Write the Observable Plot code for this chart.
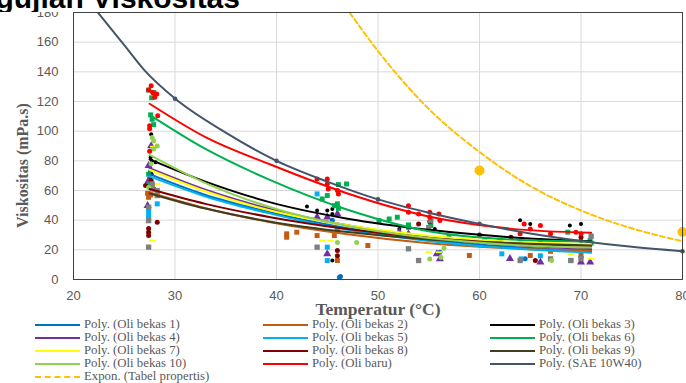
<!DOCTYPE html>
<html><head><meta charset="utf-8">
<script src="https://cdn.jsdelivr.net/npm/d3@7"></script>
<script src="https://cdn.jsdelivr.net/npm/@observablehq/plot@0.6"></script>
<style>
body{margin:0;background:#fff;width:686px;height:383px;overflow:hidden;}
#wrap{position:relative;width:686px;height:383px;}
#wrap svg{position:absolute;left:0;top:0;}
#title{position:absolute;left:0;top:-30px;width:686px;height:42px;background:#fff;overflow:hidden;}
#title span{position:absolute;right:446px;top:12.6px;font:bold 30px/30px "Liberation Sans",Arial,sans-serif;white-space:nowrap;color:#000;}
#legend{position:absolute;left:0;top:0;width:686px;height:383px;font:12.8px/13px "Liberation Serif","Times New Roman",serif;color:#595959;pointer-events:none;}
.item{position:absolute;display:flex;align-items:center;height:13px;white-space:nowrap;}
.sw{width:45px;height:0;border-top-width:2px;border-top-style:solid;margin-right:4px;}
</style></head>
<body>
<div id="wrap"></div>
<script>
// ---- axis ticks ----
const temperatureTicks = [20, 30, 40, 50, 60, 70, 80];
const viscosityTicks = [0, 20, 40, 60, 80, 100, 120, 140, 160, 180];

// ---- series ----
const seriesNames = ["Oli bekas 1","Oli bekas 2","Oli bekas 3","Oli bekas 4","Oli bekas 5","Oli bekas 6","Oli bekas 7","Oli bekas 8","Oli bekas 9","Oli bekas 10","Oli baru","SAE 10W40"];
const lineColors = ["#0070C0","#C55A11","#000000","#7030A0","#00B0F0","#00B050","#FFFF00","#7F0000","#3F3F1F","#92D050","#FF0000","#44546A"];
const markerColors = ["#0070C0","#C55A11","#000000","#7030A0","#00B0F0","#00B050","#FFFF00","#7F0000","#7F7F7F","#92D050","#FF0000","#44546A"];
const markerShapes = ["circle","square","circle","triangle","square","square","dash","circle","square","circle","circle","circle"];
const markerRadius = [2.5,2.8,2,3,2.8,2.8,3,2.5,3,2.5,2.5,2.3];

// ---- measured points [temperature °C, viscosity mPa.s] ----
const ptsBekas1 = [[27.6,73],[27.5,68],[45.5,40],[46.2,1.5],[46.3,2],[56.1,18.4],[64.5,14],[70,15]];
const ptsBekas2 = [[27.4,55.4],[27.3,58.1],[27.6,57],[41.0,30.8],[41.0,28.5],[42.0,31.9],[44.0,29.6],[45.7,29.6],[49,22.9],[46.0,12.8],[59.0,16.2],[59.8,24],[65.0,16.2],[67,19],[70,17]];
const ptsBekas3 = [[27.65,98],[27.6,82.4],[27.7,80],[28.1,79],[27.7,71],[43.0,49.2],[44.0,46.5],[45.0,46.5],[45.5,47.6],[45.5,44.2],[45.5,12.8],[52.1,34.1],[55.6,34.1],[64.0,40],[65.0,37.5],[68.9,36.4],[70.0,37.5]];
const ptsBekas4 = [[27.4,76.8],[27.65,90],[27.3,49.8],[27.4,66.7],[44.0,42],[45.0,42],[46.0,44.2],[45.0,17.3],[52.1,31.9],[53.0,30.8],[55.8,17.3],[56.1,13.9],[63,14],[66.0,11.7],[70.0,11.7],[70.9,11.7]];
const ptsBekas5 = [[27.4,47.6],[27.4,43.1],[27.4,40.8],[28.25,51],[27.4,45],[44.0,57.7],[45.0,21.8],[45.0,12.8],[62.2,17.3],[64.1,13.9],[66,16],[69.0,12.8]];
const ptsBekas6 = [[27.4,127.7],[27.9,126],[28.0,124],[27.7,122.5],[27.6,111],[27.75,108],[27.9,104.4],[27.4,71],[27.5,64.6],[46.1,64],[46.9,64.4],[45.0,56.6],[44.5,54.3],[45.7,49.8],[46.0,51],[46.1,48],[50.1,39.7],[51.1,40.8],[51.9,42],[53.0,35.2],[55.2,36.4],[57.0,28.5],[53.0,36.8],[60.5,27],[62.0,27.4],[64.0,26],[66.0,26.3],[68.7,31.9],[70.9,26.3],[71,24.5]];
const ptsBekas7 = [[27.85,89.6],[27.9,73.4],[27.75,26.3],[28.25,64.4],[44.5,26.3],[45.3,26.3],[55.0,18.4],[56.0,18.4],[62,28],[65,20],[69,17],[71,14]];
const ptsBekas8 = [[27.1,63.3],[27.4,34.3],[27.4,31.9],[27.4,29.6],[28.25,38.6],[27.65,66.7],[27.9,61],[46.0,19.5],[46.0,16],[54.0,37.5],[55.1,39],[60,30],[63.1,28.5],[70.0,28.5],[65.5,12.8]];
const ptsBekas9 = [[27.4,21.8],[27.4,39.7],[27.4,48.7],[27.75,64.4],[28.25,60],[28.25,56.6],[27.75,61],[44.0,21.8],[46.0,33],[53.0,20.7],[54.0,12.8],[55.2,39.7],[55,35],[64.0,12.8],[67.0,13.9],[69.0,12.8],[70,14],[71,29.2]];
const ptsBekas10 = [[27.75,95.8],[27.9,93.6],[28.25,90],[27.9,88],[27.65,78],[27.4,62],[46.0,25],[47.9,25],[55.1,13.9],[56.2,15],[56.5,21],[63,24],[67.1,12.8],[69,22]];
const ptsBaru = [[27.65,130.6],[27.4,127.7],[28.2,125],[28.0,122.8],[27.8,126],[27.5,103.7],[27.5,101.7],[28.3,110.4],[27.5,86.4],[45.0,67.8],[45.0,64.4],[45.1,61],[46.0,60],[46.1,57.7],[44.0,67.8],[53.0,49.8],[53.0,45.3],[54.0,44.2],[55.1,45.3],[55.1,42],[56.0,44.2],[56.1,39.7],[64.0,30.8],[64.4,37.5],[65.0,34.1],[66.0,36.4],[67.0,30.8],[69.5,31.9],[70.0,30.8]];
const ptsSAE = [[30,121.9],[40,80],[50,54],[60,37.5],[70,26],[80,19]];
const ptsTabel = [[60,73.5],[80,32]];

// ---- trendlines at these temperatures ----
const trendTemps = [27.5, 33, 39.4, 47, 55, 63, 71];
const trendBekas1 = [71, 57, 45.3, 34.5, 27, 22, 19];
const trendBekas2 = [58.6, 48, 38.6, 30.5, 24.5, 21, 19.5];
const trendBekas3 = [81, 66, 52, 41, 33.5, 28.5, 25.8];
const trendBekas4 = [75, 60.5, 47.5, 36.5, 28.5, 23.5, 20.5];
const trendBekas5 = [69.5, 56, 44.4, 33.5, 26, 21, 18];
const trendBekas6 = [111, 88, 67, 47, 32.5, 27, 25.5];
const trendBekas7 = [74, 59.5, 46.5, 36.5, 29.5, 25.5, 24];
const trendBekas8 = [61, 51, 42, 34, 28, 24.5, 22.5];
const trendBekas9 = [58, 47.8, 39, 32, 27, 24.5, 23];
const trendBekas10 = [84, 65, 48.7, 36, 28, 23.5, 21.5];
const trendBaru = [118.5, 96, 77.5, 58, 42.5, 34.3, 31.5];
const saeTemps = [22.4, 25, 27, 30, 35, 40, 45, 50, 55, 60, 65, 70, 75, 80];
const saeTrend = [180, 158, 141, 122, 99, 80, 66, 54, 45, 37.5, 31, 26, 22, 19];
const expTemps = [47.2, 50, 55, 60, 65, 70, 75, 80];
const expTrend = [180, 154, 115, 86, 63, 46.5, 34.5, 25.8];

const allPoints = [ptsBekas1,ptsBekas2,ptsBekas3,ptsBekas4,ptsBekas5,ptsBekas6,ptsBekas7,ptsBekas8,ptsBekas9,ptsBekas10,ptsBaru,ptsSAE];
const allTrends = [trendBekas1,trendBekas2,trendBekas3,trendBekas4,trendBekas5,trendBekas6,trendBekas7,trendBekas8,trendBekas9,trendBekas10,trendBaru];

const dashSymbol = {draw(ctx, size){ const w = Math.sqrt(size) * 0.6; ctx.rect(-w, -0.9, 2 * w, 1.8); }};

const dotMarks = allPoints.map((pts, i) => Plot.dot(pts, {
  x: d => d[0], y: d => d[1],
  symbol: markerShapes[i] === "dash" ? dashSymbol : markerShapes[i],
  r: markerRadius[i], fill: markerColors[i], stroke: "none"
}));

const toRows = (temps, vals) => temps.map((t, j) => ({t, v: vals[j]}));
const lineMarks = allTrends.map((vals, i) => Plot.line(toRows(trendTemps, vals), {
  x: "t", y: "v", stroke: lineColors[i], strokeWidth: 2, curve: "monotone-x", clip: true
}));

const chart = Plot.plot({
  width: 686, height: 317,
  marginLeft: 73, marginRight: 4, marginTop: 12, marginBottom: 38,
  x: {domain: [20, 80], ticks: temperatureTicks, tickSize: 0, tickPadding: 11, label: null},
  y: {domain: [0, 180], ticks: viscosityTicks, tickSize: 0, tickPadding: 15, label: null},
  style: {background: "transparent", fontFamily: "'Liberation Sans', Arial, sans-serif", fontSize: "13px", color: "#595959", overflow: "visible"},
  marks: [
    Plot.ruleX(temperatureTicks, {x: d => d, stroke: "#d9d9d9", strokeWidth: 1}),
    Plot.ruleY(viscosityTicks, {y: d => d, stroke: "#d9d9d9", strokeWidth: 1}),
    ...dotMarks,
    ...lineMarks,
    Plot.line(toRows(saeTemps, saeTrend), {x: "t", y: "v", stroke: lineColors[11], strokeWidth: 2, curve: "monotone-x", clip: true}),
    Plot.line(toRows(expTemps, expTrend), {x: "t", y: "v", stroke: "#FFC000", strokeWidth: 2, strokeDasharray: "5,3", curve: "monotone-x", clip: true}),
    Plot.dot(ptsTabel, {x: d => d[0], y: d => d[1], r: 5, fill: "#FFC000"}),
    Plot.frame({stroke: "#404040", strokeWidth: 1}),
    Plot.text(["Temperatur (°C)"], {text: d => d, frameAnchor: "bottom", lineAnchor: "middle", textAnchor: "middle", dy: 29.5, fontFamily: "'Liberation Serif', 'Times New Roman', serif", fontWeight: "bold", fontSize: 17.5, fill: "#595959"}),
    Plot.text(["Viskositas (mPa.s)"], {text: d => d, frameAnchor: "left", lineAnchor: "middle", textAnchor: "middle", rotate: -90, dx: -51, dy: 19.5, fontFamily: "'Liberation Serif', 'Times New Roman', serif", fontWeight: "bold", fontSize: 16, fill: "#595959"})
  ]
});

const wrap = document.getElementById("wrap");
wrap.appendChild(chart);

// title (cropped at the top of the picture)
const title = document.createElement("div");
title.id = "title";
title.innerHTML = "<span>Grafik Pengujian Viskositas</span>";
wrap.appendChild(title);

// legend
const legend = document.createElement("div");
legend.id = "legend";
const colLeft = [35, 263, 490];
const legendItems = seriesNames.map((n, i) => ({label: "Poly. (" + n + ")", color: lineColors[i], dash: false}));
legendItems.push({label: "Expon. (Tabel propertis)", color: "#FFC000", dash: true});
legendItems.forEach((it, i) => {
  const row = Math.floor(i / 3), col = i % 3;
  const el = document.createElement("div");
  el.className = "item";
  el.style.left = colLeft[col] + "px";
  el.style.top = (318 + row * 13.1) + "px";
  const sw = document.createElement("span");
  sw.className = "sw";
  sw.style.borderTopColor = it.color;
  if (it.dash) sw.style.borderTopStyle = "dashed";
  el.appendChild(sw);
  const tx = document.createElement("span");
  tx.textContent = it.label;
  el.appendChild(tx);
  legend.appendChild(el);
});
wrap.appendChild(legend);
</script>
</body></html>
